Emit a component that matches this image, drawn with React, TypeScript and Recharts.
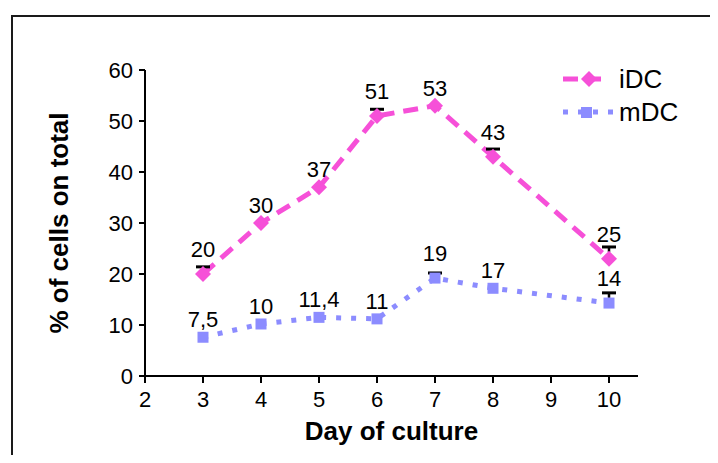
import React from 'react';
import { ComposedChart, Line, Scatter, XAxis, YAxis, LabelList, Legend } from 'recharts';

const days = [3, 4, 5, 6, 7, 8, 10];
const iDCValues = [20, 30, 37, 51, 53, 43, 23];
const iDCLabels = ['20', '30', '37', '51', '53', '43', '25'];
const iDCErrors = [1.4, 0, 0, 1.3, 0, 1.5, 2.3];
const mDCValues = [7.6, 10.2, 11.5, 11.2, 19.2, 17.2, 14.3];
const mDCLabels = ['7,5', '10', '11,4', '11', '19', '17', '14'];
const mDCErrors = [0, 0, 0, 0, 1, 0, 2];
const xTicks = [2, 3, 4, 5, 6, 7, 8, 9, 10];
const yTicks = [0, 10, 20, 30, 40, 50, 60];

const PINK = '#F650D8';
const BLUE = '#8C8CFF';
const FONT = '"Liberation Sans", Arial, sans-serif';

const data = days.map((d, i) => ({
  day: d,
  iDC: iDCValues[i],
  iDCLabel: iDCLabels[i],
  mDC: mDCValues[i],
  mDCLabel: mDCLabels[i],
}));

const caps = [
  ...days.map((d, i) => ({ day: d, cap: iDCValues[i] + iDCErrors[i], err: iDCErrors[i] })),
  ...days.map((d, i) => ({ day: d, cap: mDCValues[i] + mDCErrors[i], err: mDCErrors[i] })),
].filter((c) => c.err > 0);

const DiamondDot = (props: any) => {
  const { cx, cy, index } = props;
  if (cx == null || cy == null) return <g key={`d${index}`} />;
  const r = 8;
  return (
    <path
      key={`d${index}`}
      d={`M${cx},${cy - r}L${cx + r},${cy}L${cx},${cy + r}L${cx - r},${cy}Z`}
      fill={PINK}
      stroke="none"
    />
  );
};

const SquareDot = (props: any) => {
  const { cx, cy, index } = props;
  if (cx == null || cy == null) return <g key={`s${index}`} />;
  const r = 5.5;
  return <rect key={`s${index}`} x={cx - r} y={cy - r} width={2 * r} height={2 * r} fill={BLUE} />;
};

const CapShape = (props: any) => {
  const { cx, cy } = props;
  if (cx == null || cy == null) return <g />;
  return (
    <g>
      <line x1={cx} y1={cy} x2={cx} y2={cy + 5} stroke="#000" strokeWidth={2.5} />
      <line x1={cx - 7} y1={cy} x2={cx + 7} y2={cy} stroke="#000" strokeWidth={3} />
    </g>
  );
};

const makeLabel = (errors: number[]) => (props: any) => {
  const { x, y, value, index } = props;
  const off = errors[index] > 0 ? 17 : 10;
  return (
    <text x={x} y={y - off} textAnchor="middle" fontFamily={FONT} fontSize={22} fill="#000">
      {value}
    </text>
  );
};

const renderLegend = () => (
  <div style={{ fontFamily: FONT, fontSize: 26, color: '#000', lineHeight: 1 }}>
    <div style={{ display: 'flex', alignItems: 'center', height: 33 }}>
      <svg width={56} height={20}>
        <line x1={0} y1={10} x2={40} y2={10} stroke={PINK} strokeWidth={5} strokeDasharray="15 8" />
        <path d="M26,2L34,10L26,18L18,10Z" fill={PINK} />
      </svg>
      <span>iDC</span>
    </div>
    <div style={{ display: 'flex', alignItems: 'center', height: 33 }}>
      <svg width={56} height={20}>
        <line x1={0} y1={10} x2={50} y2={10} stroke={BLUE} strokeWidth={5} strokeDasharray="5 10" />
        <rect x={18} y={5} width={11} height={11} fill={BLUE} />
      </svg>
      <span>mDC</span>
    </div>
  </div>
);

const tickStyle = { fontFamily: FONT, fontSize: 22, fill: '#000' };

export default function App() {
  return (
    <div style={{ position: 'relative', width: 710, height: 455, overflow: 'hidden', marginBottom: -8, background: '#fff' }}>
      <div
        style={{
          position: 'absolute',
          left: 3,
          top: 7,
          width: 800,
          height: 600,
          borderLeft: '2px solid #1a1a1a',
          borderTop: '2px solid #1a1a1a',
          boxSizing: 'border-box',
        }}
      />
      <div style={{ position: 'absolute', left: 0, top: 0 }}>
        <ComposedChart width={710} height={455} data={data} margin={{ top: 62, right: 80, bottom: 23, left: 27 }}>
          <XAxis
            dataKey="day"
            type="number"
            domain={[2, 10.5]}
            ticks={xTicks}
            interval={0}
            height={64}
            tick={tickStyle}
            tickSize={7}
            tickMargin={8}
            axisLine={{ stroke: '#000', strokeWidth: 2 }}
            tickLine={{ stroke: '#000', strokeWidth: 2 }}
            label={{
              value: 'Day of culture',
              position: 'insideBottom',
              offset: 0,
              style: { fontFamily: FONT, fontSize: 26, fontWeight: 'bold', fill: '#000' },
            }}
          />
          <YAxis
            type="number"
            domain={[0, 60]}
            ticks={yTicks}
            interval={0}
            width={110}
            tick={tickStyle}
            tickSize={6}
            tickMargin={6}
            axisLine={{ stroke: '#000', strokeWidth: 2 }}
            tickLine={{ stroke: '#000', strokeWidth: 2 }}
            label={{
              value: '% of cells on total',
              content: (p: any) => {
                const vb = p.viewBox || {};
                const cx = (vb.x ?? 27) + 24;
                const cy = (vb.y ?? 62) + (vb.height ?? 306) / 2;
                return (
                  <text
                    x={cx}
                    y={cy}
                    transform={`rotate(-90, ${cx}, ${cy})`}
                    textAnchor="middle"
                    dominantBaseline="central"
                    fontFamily={FONT}
                    fontSize={26}
                    fontWeight="bold"
                    fill="#000"
                  >
                    % of cells on total
                  </text>
                );
              },
            }}
          />
          <Legend
            content={renderLegend}
            layout="vertical"
            align="center"
            verticalAlign="middle"
            wrapperStyle={{ left: 555, top: 54, width: 150 }}
          />
          <Line
            dataKey="iDC"
            name="iDC"
            stroke={PINK}
            strokeWidth={5}
            strokeDasharray="15 9"
            type="linear"
            dot={DiamondDot}
            activeDot={false}
            isAnimationActive={false}
          >
            <LabelList dataKey="iDCLabel" content={makeLabel(iDCErrors)} />
          </Line>
          <Line
            dataKey="mDC"
            name="mDC"
            stroke={BLUE}
            strokeWidth={5}
            strokeDasharray="5 10"
            type="linear"
            dot={SquareDot}
            activeDot={false}
            isAnimationActive={false}
          >
            <LabelList dataKey="mDCLabel" content={makeLabel(mDCErrors)} />
          </Line>
          <Scatter
            data={caps}
            dataKey="cap"
            shape={CapShape}
            legendType="none"
            isAnimationActive={false}
          />
        </ComposedChart>
      </div>
    </div>
  );
}
